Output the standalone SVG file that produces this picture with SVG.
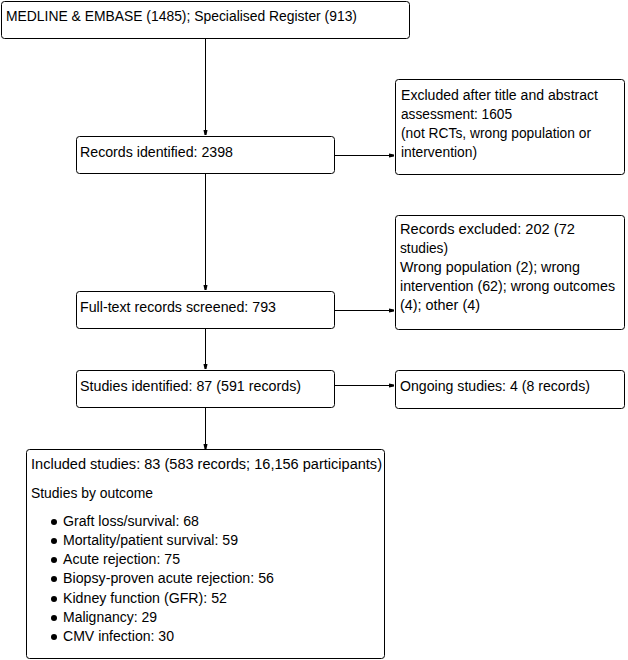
<svg xmlns="http://www.w3.org/2000/svg" width="628" height="660" viewBox="0 0 628 660">
<style>
.box{fill:#fff;stroke:#000;stroke-width:1}
text{font-family:"Liberation Sans",Arial,sans-serif;font-size:14px;fill:#000}
.c{stroke:#000;stroke-width:1;fill:none}
</style>
<defs>
<marker id="ah" markerWidth="6" markerHeight="6" refX="5" refY="3" orient="auto" markerUnits="userSpaceOnUse">
<path d="M0,1 L5,2 L5,4 L0,5 Z" fill="#000"/>
</marker>
</defs>
<rect width="628" height="660" fill="#fff"/>
<g id="connectors">
<line class="c" x1="205.5" y1="38" x2="205.5" y2="135" marker-end="url(#ah)"/>
<line class="c" x1="205.5" y1="173" x2="205.5" y2="290" marker-end="url(#ah)"/>
<line class="c" x1="205.5" y1="328" x2="205.5" y2="369" marker-end="url(#ah)"/>
<line class="c" x1="205.5" y1="407" x2="205.5" y2="449" marker-end="url(#ah)"/>
<line class="c" x1="334" y1="155.5" x2="394" y2="155.5" marker-end="url(#ah)"/>
<line class="c" x1="334" y1="310.5" x2="394" y2="310.5" marker-end="url(#ah)"/>
<line class="c" x1="334" y1="385.5" x2="394" y2="385.5" marker-end="url(#ah)"/>
</g>
<g id="n1"><rect class="box" x="1.5" y="1.5" width="408" height="37" rx="3"/><text x="6" y="21" textLength="351" lengthAdjust="spacingAndGlyphs">MEDLINE &amp; EMBASE (1485); Specialised Register (913)</text></g>
<g id="n2"><rect class="box" x="76.5" y="136.5" width="258" height="37" rx="3"/><text x="80" y="157" textLength="153" lengthAdjust="spacingAndGlyphs">Records identified: 2398</text></g>
<g id="n3"><rect class="box" x="395.5" y="79.5" width="229" height="95" rx="3"/>
<text x="401" y="100" textLength="197" lengthAdjust="spacingAndGlyphs">Excluded after title and abstract</text>
<text x="401" y="119" textLength="111" lengthAdjust="spacingAndGlyphs">assessment: 1605</text>
<text x="401" y="138" textLength="190" lengthAdjust="spacingAndGlyphs">(not RCTs, wrong population or</text>
<text x="401" y="157" textLength="76" lengthAdjust="spacingAndGlyphs">intervention)</text></g>
<g id="n4"><rect class="box" x="76.5" y="291.5" width="258" height="37" rx="3"/><text x="80" y="312" textLength="196" lengthAdjust="spacingAndGlyphs">Full-text records screened: 793</text></g>
<g id="n5"><rect class="box" x="395.5" y="215.5" width="229" height="114" rx="3"/>
<text x="400" y="234" textLength="175" lengthAdjust="spacingAndGlyphs">Records excluded: 202 (72</text>
<text x="400" y="253" textLength="48" lengthAdjust="spacingAndGlyphs">studies)</text>
<text x="400" y="272" textLength="180" lengthAdjust="spacingAndGlyphs">Wrong population (2); wrong</text>
<text x="400" y="291" textLength="215" lengthAdjust="spacingAndGlyphs">intervention (62); wrong outcomes</text>
<text x="400" y="310" textLength="80" lengthAdjust="spacingAndGlyphs">(4); other (4)</text></g>
<g id="n6"><rect class="box" x="76.5" y="370.5" width="258" height="37" rx="3"/><text x="80" y="391" textLength="221" lengthAdjust="spacingAndGlyphs">Studies identified: 87 (591 records)</text></g>
<g id="n7"><rect class="box" x="395.5" y="370.5" width="229" height="38" rx="3"/><text x="400" y="391" textLength="190" lengthAdjust="spacingAndGlyphs">Ongoing studies: 4 (8 records)</text></g>
<g id="n8"><rect class="box" x="26.5" y="449.5" width="358" height="209" rx="3"/>
<text x="31" y="469" textLength="351" lengthAdjust="spacingAndGlyphs">Included studies: 83 (583 records; 16,156 participants)</text>
<text x="31" y="498" textLength="122" lengthAdjust="spacingAndGlyphs">Studies by outcome</text>
<g fill="#000">
<circle cx="54" cy="522" r="3"/><circle cx="54" cy="541" r="3"/><circle cx="54" cy="560" r="3"/><circle cx="54" cy="579" r="3"/><circle cx="54" cy="599" r="3"/><circle cx="54" cy="618" r="3"/><circle cx="54" cy="637" r="3"/>
</g>
<text x="63" y="526" textLength="136" lengthAdjust="spacingAndGlyphs">Graft loss/survival: 68</text>
<text x="63" y="545" textLength="175" lengthAdjust="spacingAndGlyphs">Mortality/patient survival: 59</text>
<text x="63" y="564" textLength="117" lengthAdjust="spacingAndGlyphs">Acute rejection: 75</text>
<text x="63" y="583" textLength="211" lengthAdjust="spacingAndGlyphs">Biopsy-proven acute rejection: 56</text>
<text x="63" y="603" textLength="164" lengthAdjust="spacingAndGlyphs">Kidney function (GFR): 52</text>
<text x="63" y="622" textLength="94" lengthAdjust="spacingAndGlyphs">Malignancy: 29</text>
<text x="63" y="641" textLength="111" lengthAdjust="spacingAndGlyphs">CMV infection: 30</text></g>
</svg>
